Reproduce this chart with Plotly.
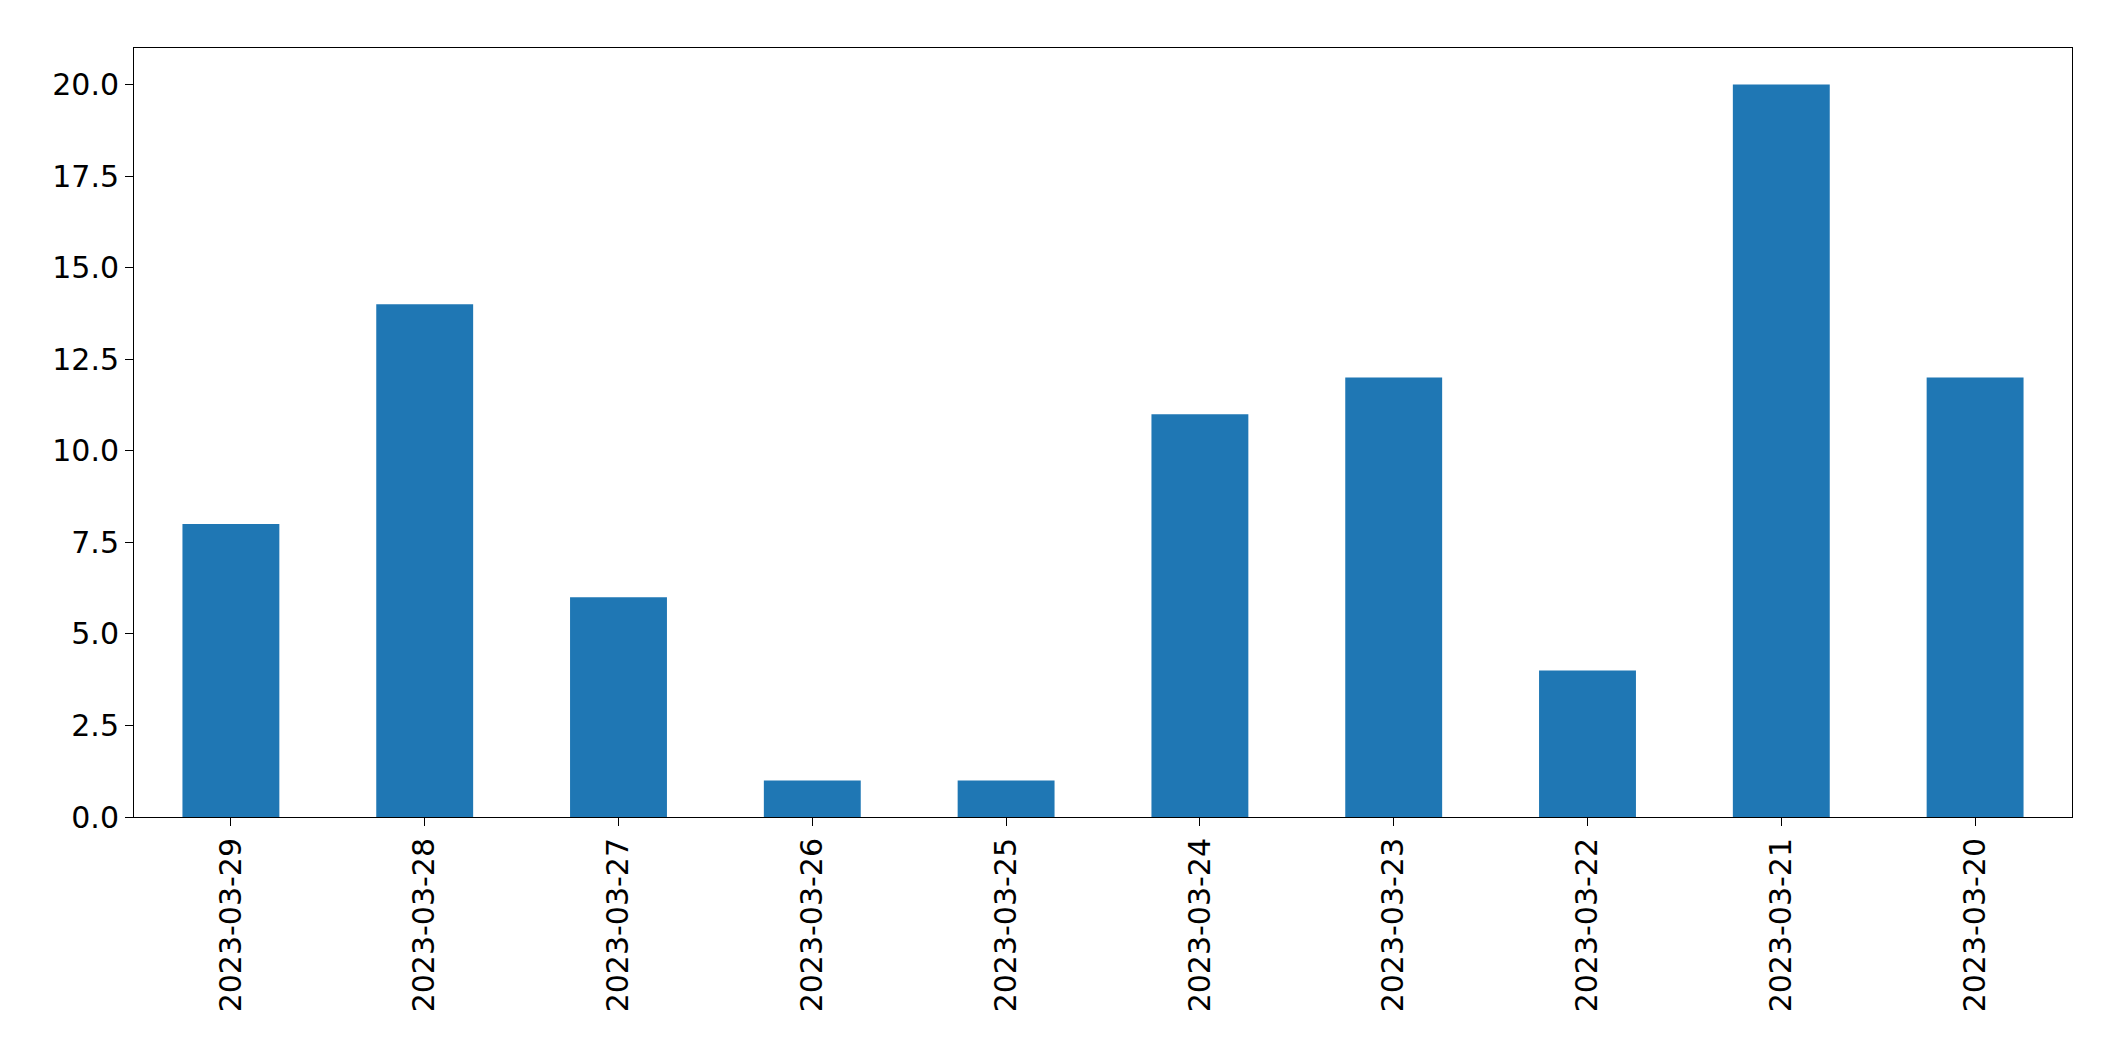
import plotly.graph_objects as go

dates = ["2023-03-29", "2023-03-28", "2023-03-27", "2023-03-26", "2023-03-25",
         "2023-03-24", "2023-03-23", "2023-03-22", "2023-03-21", "2023-03-20"]
counts = [8, 14, 6, 1, 1, 11, 12, 4, 20, 12]
yticks = [0, 2.5, 5, 7.5, 10, 12.5, 15, 17.5, 20]

fig = go.Figure(go.Bar(x=dates, y=counts, marker_color="#1f77b4", marker_line_width=0))

fig.update_layout(
    width=2104, height=1061,
    margin=dict(l=126, r=40, t=40, b=252),
    plot_bgcolor="white", paper_bgcolor="white",
    bargap=0.5,
    font=dict(family="DejaVu Sans", size=30, color="black"),
    showlegend=False,
)
fig.update_xaxes(type="category", range=[-0.5, 9.5], tickangle=-90,
                 showline=True, linecolor="black", mirror=True,
                 ticks="outside", ticklen=8, tickcolor="black")
fig.update_yaxes(range=[0, 21], tickvals=yticks,
                 ticktext=[f"{v:.1f}" for v in yticks],
                 showgrid=False, zeroline=False,
                 showline=True, linecolor="black", mirror=True,
                 ticks="outside", ticklen=8, tickcolor="black")

fig.write_html("out.html")
